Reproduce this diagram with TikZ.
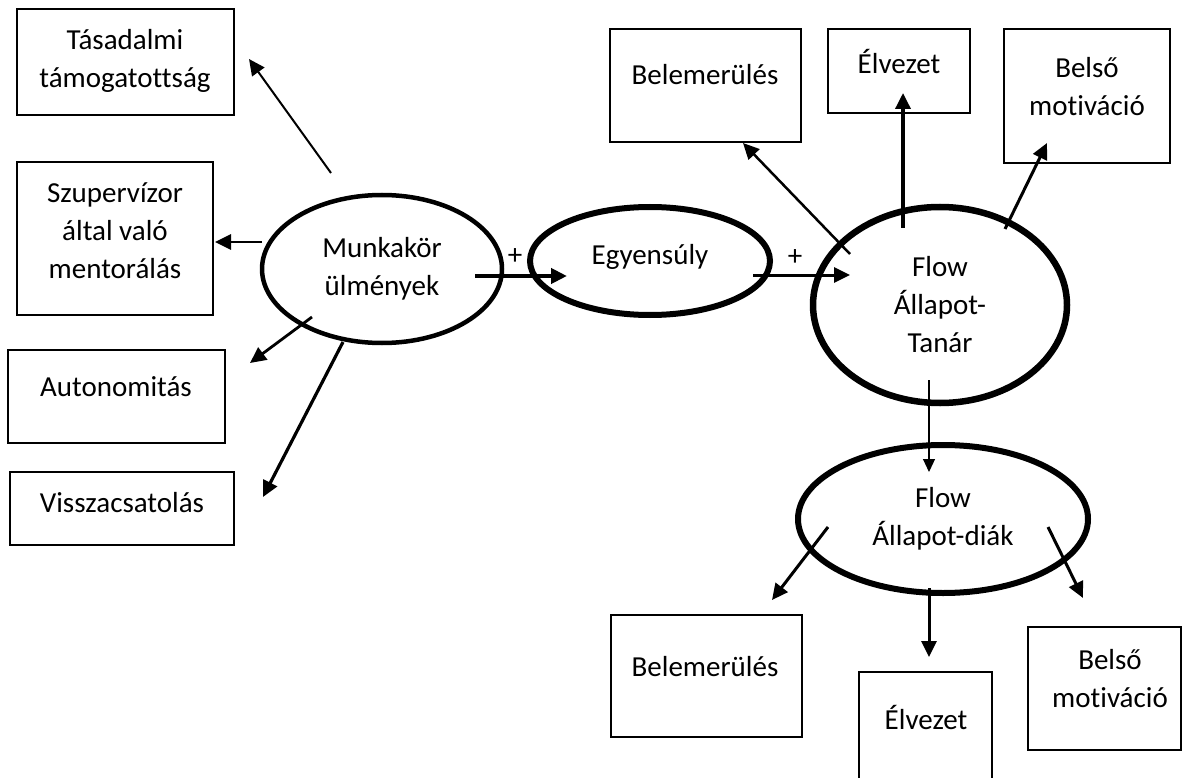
\documentclass[tikz,border=0pt]{standalone}
\usepackage{fontspec}
\setmainfont{Carlito}[Ligatures=NoCommon]
\usetikzlibrary{arrows.meta,shapes.geometric}
\begin{document}
\begin{tikzpicture}[x=1pt,y=-1pt,
  every node/.style={font=\fontsize{29}{38}\selectfont, align=center},
  box/.style={draw, line width=2.5pt, inner sep=0pt, rectangle},
  lbl/.style={inner sep=0pt},
  oval/.style={draw, ellipse, inner sep=0pt},
  arr/.style={line width=3pt, -{Triangle[length=16pt,width=15pt]}},
  thinarr/.style={line width=1.2pt, -{Triangle[length=13pt,width=12pt]}}]
\clip (0,0) rectangle (1183,778);
\fill[white] (0,0) rectangle (1183,778);
% boxes
\node[box, minimum width=217pt, minimum height=106pt] (tas) at (125.5,62) {};
\node[box, minimum width=196pt, minimum height=153pt] (szup) at (115,238.5) {};
\node[box, minimum width=217pt, minimum height=93pt] (auto) at (116.5,396.5) {};
\node[box, minimum width=224pt, minimum height=73pt] (vissza) at (122,508.5) {};
\node[box, minimum width=191pt, minimum height=113pt] (belemA) at (705.5,85.5) {};
\node[box, minimum width=142pt, minimum height=84pt] (elvA) at (899,71) {};
\node[box, minimum width=166pt, minimum height=134pt] (belsoA) at (1087,96) {};
\node[box, minimum width=191pt, minimum height=122pt] (belemB) at (706.5,676) {};
\node[box, minimum width=133pt, minimum height=128pt] (elvB) at (925.5,736) {};
\node[box, minimum width=153pt, minimum height=123pt] (belsoB) at (1104.5,688.5) {};
% box texts
\node[lbl] (tasT) at (125,61) {Tásadalmi\\támogatottság};
\node[lbl] (szupT) at (115,231) {Szupervízor\\által való\\mentorálás};
\node[lbl] (autoT) at (116,387) {Autonomitás};
\node[lbl] (visszaT) at (122,503) {Visszacsatolás};
\node[lbl] (belemAT) at (705,75) {Belemerülés};
\node[lbl] (elvAT) at (899,62) {Élvezet};
\node[lbl] (belsoAT) at (1087,87) {Belső\\motiváció};
\node[lbl] (belemBT) at (705,667) {Belemerülés};
\node[lbl] (elvBT) at (926,717) {Élvezet};
\node[lbl] (belsoBT) at (1110,679) {Belső\\motiváció};
% ellipses
\node[oval, line width=4.5pt, minimum width=240pt, minimum height=148pt] (munka) at (382,269) {Munkakör\\ülmények};
\node[oval, line width=6pt, minimum width=240pt, minimum height=108pt] (egy) at (650,261) {};
\node[lbl] (egyT) at (650,257) {Egyensúly};
\node[oval, line width=6.5pt, minimum width=254pt, minimum height=196pt] (flowT) at (940,305) {Flow\\Állapot-\\Tanár};
\node[oval, line width=6pt, minimum width=290pt, minimum height=148pt] (flowD) at (943,519) {Flow\\Állapot-diák};
% plus signs
\node[lbl] (p1) at (515,257) {+};
\node[lbl] (p2) at (795,258) {+};
% arrow coordinates
\coordinate (s1) at (331,173); \coordinate (t1) at (249,59);
\coordinate (s2) at (262,242); \coordinate (t2) at (215,242);
\coordinate (s3) at (312,317); \coordinate (t3) at (250,363);
\coordinate (s4) at (343,342); \coordinate (t4) at (263,497);
\coordinate (s5) at (475,276); \coordinate (t5) at (567,276);
\coordinate (s6) at (753,275); \coordinate (t6) at (850,275);
\coordinate (s7) at (850,254); \coordinate (t7) at (743,143);
\coordinate (s8) at (903,228); \coordinate (t8) at (903,93);
\coordinate (s9) at (1005,229); \coordinate (t9) at (1047,143);
\coordinate (s10) at (929,380); \coordinate (t10) at (929,472);
\coordinate (s11) at (828,527); \coordinate (t11) at (772,600);
\coordinate (s12) at (929,588); \coordinate (t12) at (929,657);
\coordinate (s13) at (1048,527); \coordinate (t13) at (1083,598);
% arrows
\draw[arr, line width=2pt] (s1) -- (t1);
\draw[arr, line width=2.8pt] (s2) -- (t2);
\draw[arr, line width=2.8pt] (s3) -- (t3);
\draw[arr, line width=3.2pt] (s4) -- (t4);
\draw[arr, line width=4pt] (s5) -- (t5);
\draw[arr, line width=3pt] (s6) -- (t6);
\draw[arr, line width=2.5pt] (s7) -- (t7);
\draw[arr, line width=3.5pt] (s8) -- (t8);
\draw[arr, line width=3pt] (s9) -- (t9);
\draw[thinarr] (s10) -- (t10);
\draw[arr, line width=3pt] (s11) -- (t11);
\draw[arr, line width=3pt] (s12) -- (t12);
\draw[arr, line width=3pt] (s13) -- (t13);
\end{tikzpicture}
\end{document}
